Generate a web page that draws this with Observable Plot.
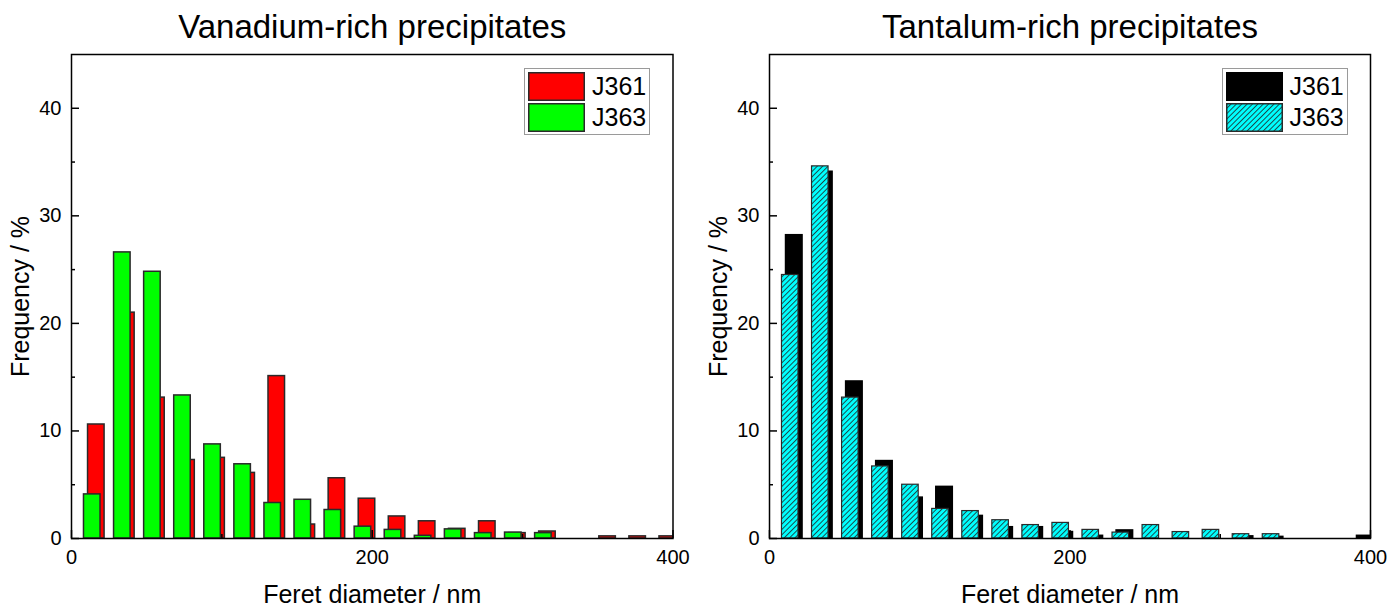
<!DOCTYPE html>
<html>
<head>
<meta charset="utf-8">
<script src="https://cdn.jsdelivr.net/npm/d3@7"></script>
<script src="https://cdn.jsdelivr.net/npm/@observablehq/plot@0.6"></script>
<style>
  body { margin: 0; background: #fff; }
  #wrap { position: relative; width: 1389px; height: 608px; background: #fff; font-family: "Liberation Sans", Arial, sans-serif; overflow: hidden; }
  .panel { position: absolute; top: 0; }
  .legend { position: absolute; box-sizing: border-box; border: 1.5px solid #9a9a9a; background: #fff; }
  .item { position: absolute; left: 3px; display: flex; align-items: center; }
  .item span { margin-left: 7px; font-size: 25px; color: #000; line-height: 27px; }
</style>
</head>
<body>
<svg width="0" height="0" style="position:absolute">
  <defs>
    <pattern id="hatch" patternUnits="userSpaceOnUse" width="3.8" height="3.8" patternTransform="rotate(45)">
      <rect width="3.8" height="3.8" fill="#00ffff"></rect>
      <line x1="0.5" y1="0" x2="0.5" y2="3.8" stroke="#1a3a3a" stroke-width="0.9"></line>
    </pattern>
  </defs>
</svg>
<div id="wrap"></div>
<script>
// ---- data ----
const binStart = [0, 20, 40, 60, 80, 100, 120, 140, 160, 180, 200, 220, 240, 260, 280, 300, 320, 340, 360, 380];
const seriesNames = ["J361", "J363"];
const vanadiumJ361 = [10.6, 21.0, 13.1, 7.3, 7.5, 6.1, 15.1, 1.3, 5.6, 3.7, 2.05, 1.6, 0.9, 1.6, 0.5, 0.65, 0, 0.2, 0.2, 0.2];
const vanadiumJ363 = [4.1, 26.6, 24.8, 13.3, 8.75, 6.9, 3.3, 3.6, 2.65, 1.1, 0.8, 0.25, 0.85, 0.5, 0.55, 0.5, 0, 0, 0, 0];
const tantalumJ361 = [28.2, 34.1, 14.6, 7.2, 3.8, 4.8, 2.1, 1.05, 1.05, 0.6, 0.25, 0.75, 0, 0, 0, 0.2, 0.15, 0, 0, 0.25];
const tantalumJ363 = [24.5, 34.6, 13.1, 6.7, 5.0, 2.75, 2.55, 1.7, 1.25, 1.45, 0.8, 0.55, 1.25, 0.6, 0.8, 0.4, 0.4, 0, 0, 0];
const yTicks = [0, 10, 20, 30, 40];
const yMinorTicks = [5, 15, 25, 35];
const xTicks = [0, 200, 400];
const xMinorTicks = [100, 300];
const titles = ["Vanadium-rich precipitates", "Tantalum-rich precipitates"];
const xLabel = "Feret diameter / nm";
const yLabel = "Frequency / %";

const HEIGHT = 608, MT = 54, MB = 70;

function rows(values, offset) {
  return binStart.map((b, i) => ({x1: b + offset, x2: b + offset + 11, v: values[i]})).filter(d => d.v > 0);
}

function panel({title, back, front, backStyle, frontStyle, width, marginLeft, marginRight}) {
  const frameW = width - marginLeft - marginRight;
  const frameH = HEIGHT - MT - MB;
  return Plot.plot({
    width, height: HEIGHT, marginLeft, marginRight, marginTop: MT, marginBottom: MB,
    x: {domain: [0, 400], label: null},
    y: {domain: [0, 45], label: null},
    style: {fontFamily: "'Liberation Sans', Arial, sans-serif", color: "#000", background: "transparent", overflow: "visible"},
    marks: [
      Plot.rect(rows(back, 11), {x1: "x1", x2: "x2", y1: 0, y2: "v", ...backStyle, clip: true}),
      Plot.rect(rows(front, 8.3), {x1: "x1", x2: "x2", y1: 0, y2: "v", ...frontStyle, clip: true}),
      Plot.tickY(yTicks, {y: d => d, insetRight: frameW - 8, stroke: "#000", strokeWidth: 1.5}),
      Plot.tickY(yMinorTicks, {y: d => d, insetRight: frameW - 4, stroke: "#000", strokeWidth: 1.5}),
      Plot.tickX(xTicks, {x: d => d, insetTop: frameH - 8, stroke: "#000", strokeWidth: 1.5}),
      Plot.tickX(xMinorTicks, {x: d => d, insetTop: frameH - 4, stroke: "#000", strokeWidth: 1.5}),
      Plot.axisY({ticks: yTicks, tickSize: 0, tickPadding: 10, fontSize: 20, label: null}),
      Plot.axisX({ticks: xTicks, tickSize: 0, tickPadding: 11, fontSize: 20, label: null}),
      Plot.frame({stroke: "#000", strokeWidth: 1.5}),
      Plot.text([title], {text: d => d, frameAnchor: "top", dy: -27, lineAnchor: "middle", textAnchor: "middle", fontSize: 33, fill: "#000"}),
      Plot.text([yLabel], {text: d => d, frameAnchor: "left", dx: -51, rotate: -90, lineAnchor: "middle", textAnchor: "middle", fontSize: 25, fill: "#000"}),
      Plot.text([xLabel], {text: d => d, frameAnchor: "bottom", dy: 56, lineAnchor: "middle", textAnchor: "middle", fontSize: 25, fill: "#000"})
    ]
  });
}

const wrap = document.getElementById("wrap");

const redStyle = {fill: "#ff0000", stroke: "#2a2a2a", strokeWidth: 1.5};
const greenStyle = {fill: "#00ff00", stroke: "#2a2a2a", strokeWidth: 1.5};
const blackStyle = {fill: "#000000", stroke: "#000000", strokeWidth: 1.5};
const cyanStyle = {fill: "url(#hatch)", stroke: "#2a2a2a", strokeWidth: 1.2};

const left = panel({title: titles[0], back: vanadiumJ361, front: vanadiumJ363, backStyle: redStyle, frontStyle: greenStyle, width: 698, marginLeft: 71, marginRight: 25.5});
const right = panel({title: titles[1], back: tantalumJ361, front: tantalumJ363, backStyle: blackStyle, frontStyle: cyanStyle, width: 691, marginLeft: 71, marginRight: 19});

const d1 = document.createElement("div"); d1.className = "panel"; d1.style.left = "0px"; d1.appendChild(left); wrap.appendChild(d1);
const d2 = document.createElement("div"); d2.className = "panel"; d2.style.left = "698px"; d2.appendChild(right); wrap.appendChild(d2);

function legend(x, y, items) {
  const box = document.createElement("div");
  box.className = "legend";
  box.style.left = x + "px"; box.style.top = y + "px";
  box.style.width = "126px"; box.style.height = "67px";
  items.forEach((it, i) => {
    const row = document.createElement("div");
    row.className = "item";
    row.style.top = (3 + i * 31) + "px";
    row.innerHTML = `<svg width="57" height="29"><rect x="0.75" y="0.75" width="55.5" height="27.5" fill="${it.fill}" stroke="${it.stroke}" stroke-width="1.5"></rect></svg><span>${it.name}</span>`;
    box.appendChild(row);
  });
  wrap.appendChild(box);
}

legend(524, 67.5, [
  {name: seriesNames[0], fill: redStyle.fill, stroke: "#2a2a2a"},
  {name: seriesNames[1], fill: greenStyle.fill, stroke: "#2a2a2a"}
]);
legend(1221.5, 68, [
  {name: seriesNames[0], fill: blackStyle.fill, stroke: "#000"},
  {name: seriesNames[1], fill: "url(#hatch)", stroke: "#2a2a2a"}
]);
</script>
</body>
</html>
